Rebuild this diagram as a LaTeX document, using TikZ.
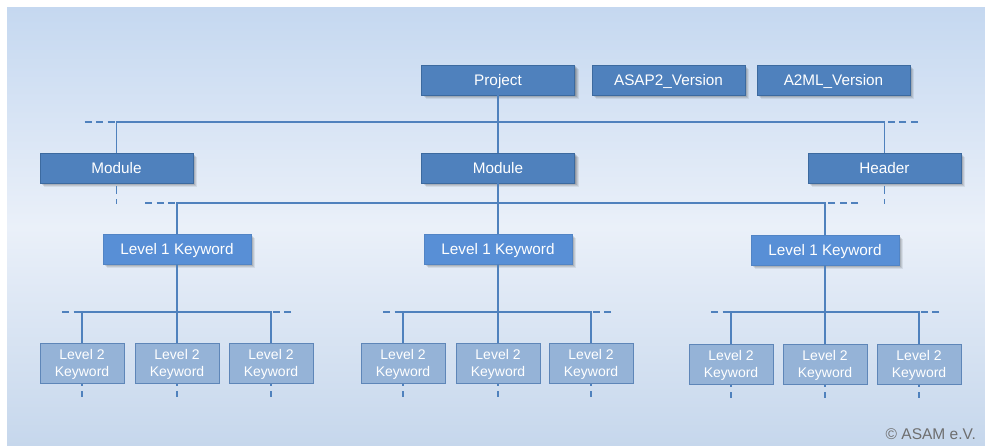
\documentclass[tikz,border=0pt]{standalone}
\usepackage{fontspec}
\setmainfont{Liberation Sans}
\usetikzlibrary{shadows,calc}

\definecolor{panelTop}{HTML}{C5D8F0}
\definecolor{panelMid}{HTML}{EAF0F9}
\definecolor{panelBot}{HTML}{C6D7EC}
\definecolor{mainFill}{HTML}{4F81BD}
\definecolor{mainEdge}{HTML}{3C6A9F}
\definecolor{kwOneFill}{HTML}{588FD6}
\definecolor{kwTwoFill}{HTML}{95B3D7}
\definecolor{kwTwoEdge}{HTML}{5E86B8}
\definecolor{linkBlue}{HTML}{4F81BD}
\definecolor{noteGray}{HTML}{6E6E6E}

\tikzset{
  % soft shadow built from a few stacked translucent copies
  boxshadow/.style={
      drop shadow={shadow xshift=4pt, shadow yshift=-4.5pt, opacity=0.07, fill=black},
      drop shadow={shadow xshift=3pt, shadow yshift=-3.5pt, opacity=0.09, fill=black},
      drop shadow={shadow xshift=2pt, shadow yshift=-2.5pt, opacity=0.11, fill=black},
      drop shadow={shadow xshift=1pt, shadow yshift=-1.5pt, opacity=0.13, fill=black}},
  mainbox/.style={rectangle, boxshadow, fill=mainFill, draw=mainEdge, line width=0.8pt,
      minimum width=153pt, minimum height=30pt, inner sep=0pt,
      text height=10.8pt, text depth=0pt,
      text=white, font=\fontsize{15.3}{18}\selectfont},
  kwone/.style={rectangle, boxshadow, fill=kwOneFill, draw=kwOneFill!92!black, line width=0.5pt,
      minimum width=148pt, minimum height=30pt, inner sep=0pt,
      text height=10.8pt, text depth=0pt,
      text=white, font=\fontsize{15.3}{18}\selectfont},
  kwtwo/.style={rectangle, fill=kwTwoFill, draw=kwTwoEdge, line width=0.8pt,
      minimum width=84pt, minimum height=40pt, inner sep=0pt, align=center,
      text depth=0pt,
      text=white, font=\fontsize{14}{16.3}\selectfont},
  link/.style={draw=linkBlue, line width=1.4pt},
  linkext/.style={draw=linkBlue, line width=1.4pt, dash pattern=on 7pt off 4.5pt},
  linkstub/.style={draw=linkBlue, line width=1.4pt, dash pattern=on 2pt off 5pt on 6pt off 2pt},
}

\begin{document}
\begin{tikzpicture}[x=1pt,y=-1pt]
  \useasboundingbox (0,0) rectangle (985,446);
  % background panel
  \fill[top color=panelTop, bottom color=panelBot, middle color=panelMid]
    (7,8) rectangle (985,446);

  % bus heights
  \coordinate (busA) at (0,122);
  \coordinate (busB) at (0,203);
  \coordinate (busC) at (0,312);

  % top row
  \node[mainbox] (project) at (498,80) {Project};
  \node[mainbox] (asap) at (668.5,80) {ASAP2\_Version};
  \node[mainbox] (a2ml) at (833.5,80) {A2ML\_Version};

  % second row
  \node[mainbox] (modL) at (116.5,168) {Module};
  \node[mainbox] (modM) at (498,168) {Module};
  \node[mainbox] (header) at (884.5,168) {Header};

  % level 1 keywords
  \node[kwone] (kL) at (177,249) {Level 1 Keyword};
  \node[kwone] (kM) at (498,249) {Level 1 Keyword};
  \node[kwone] (kR) at (825,250) {Level 1 Keyword};

  % level 2 keywords
  \foreach \n/\x/\y in {aL/82/363, aM/177/363, aR/271/363,
                        bL/403/363, bM/498/363, bR/591/363,
                        cL/731/364, cM/825/364, cR/919/364}{
    \node[kwtwo] (\n) at (\x,\y) {Level 2\\Keyword};
  }

  % project to modules
  \path[link] (project.south) -- (modM.north);
  \path[link] (modL.north) -- (modL.north |- busA) -- (header.north |- busA) -- (header.north);
  \path[linkext] ($(modL.north |- busA)+(-32,0)$) -- (modL.north |- busA);
  \path[linkext] ($(header.north |- busA)+(33,0)$) -- (header.north |- busA);
  % open continuation below the outer modules
  \foreach \b in {modL,header}{
    \path[link] ($(\b.south)+(0,2.5)$) -- ++(0,8);
    \path[link] ($(\b.south)+(0,16)$) -- ++(0,5);
  }

  % middle module to level 1
  \path[link] (modM.south) -- (kM.north);
  \path[link] (kL.north) -- (kL.north |- busB) -- (kR.north |- busB) -- (kR.north);
  \path[linkext] ($(kL.north |- busB)+(-32,0)$) -- (kL.north |- busB);
  \path[linkext] ($(kR.north |- busB)+(33,0)$) -- (kR.north |- busB);

  % level 1 to level 2
  \foreach \k/\l/\m/\r in {kL/aL/aM/aR, kM/bL/bM/bR, kR/cL/cM/cR}{
    \path[link] (\k.south) -- (\m.north);
    \path[link] (\l.north) -- (\l.north |- busC) -- (\r.north |- busC) -- (\r.north);
    \path[linkext] ($(\l.north |- busC)+(-20,0)$) -- (\l.north |- busC);
    \path[linkext] ($(\r.north |- busC)+(20,0)$) -- (\r.north |- busC);
    \foreach \b in {\l,\m,\r}{
      \path[linkstub] ($(\b.south)+(0,1)$) -- ($(\b.south)+(0,15)$);
    }
  }

  \node[anchor=east, text=noteGray, font=\fontsize{15.5}{18}\selectfont, inner sep=0pt]
    (copy) at (976,434) {© ASAM e.V.};
\end{tikzpicture}
\end{document}
